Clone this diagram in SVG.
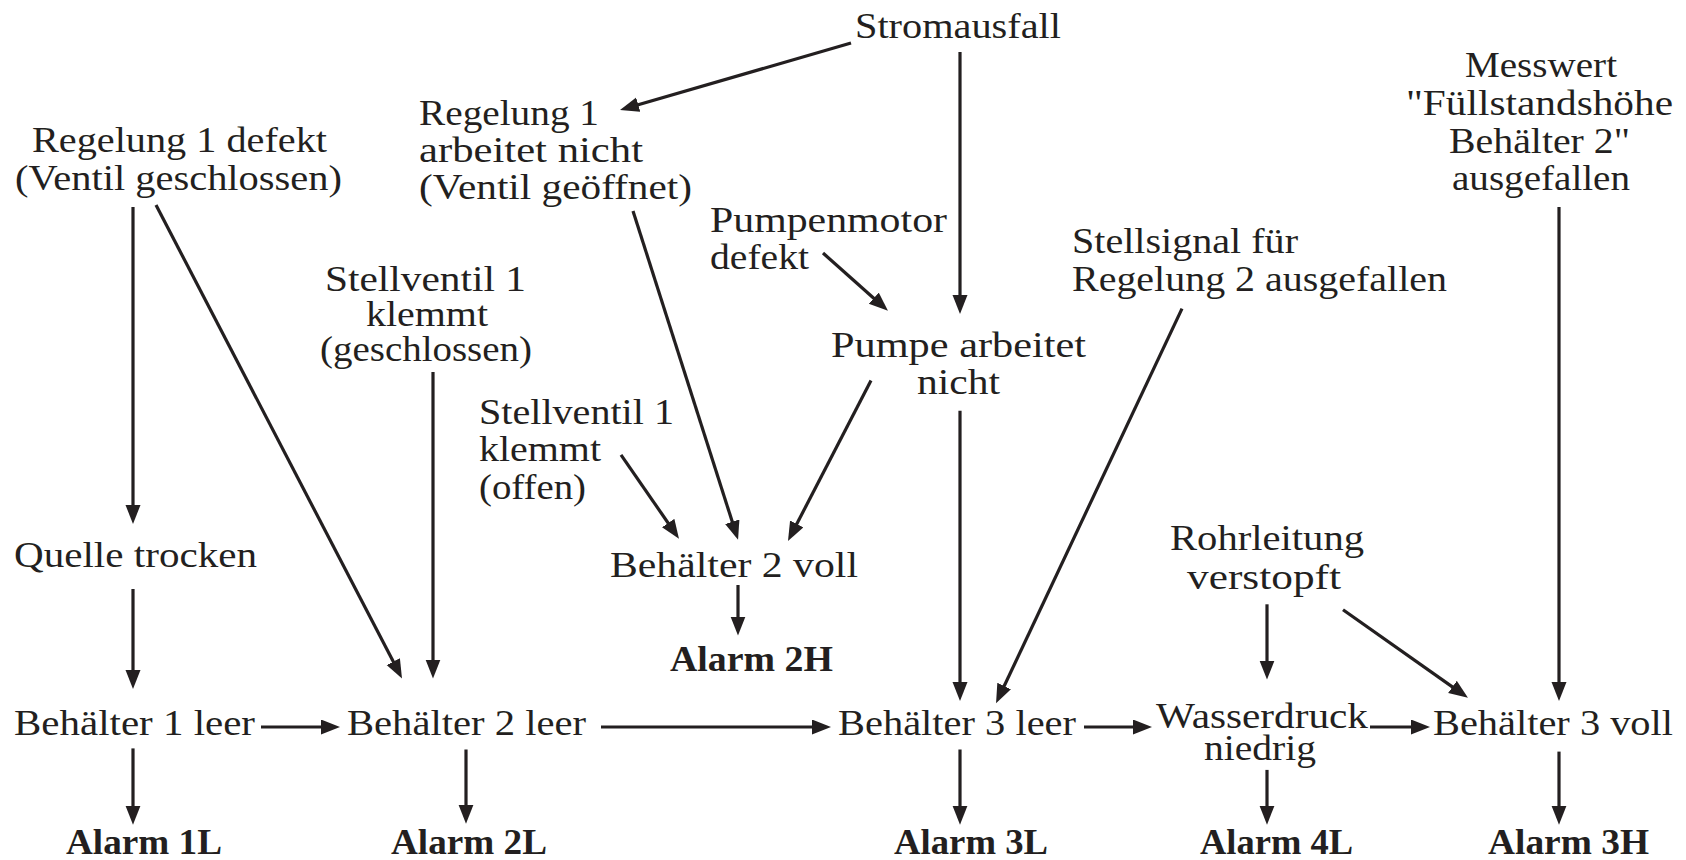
<svg xmlns="http://www.w3.org/2000/svg" width="1686" height="860" viewBox="0 0 1686 860">
  <style>
    .t { font-family: "Liberation Serif", "Times New Roman", serif; font-size: 36px; fill: #231f20; }
    .b { font-weight: bold; }
    .c line { stroke: #231f20; stroke-width: 3.2; fill: none; marker-end: url(#head); }
  </style>
  <defs>
    <marker id="head" markerUnits="userSpaceOnUse" markerWidth="20" markerHeight="16" refX="9" refY="7.5" orient="auto">
      <path d="M0,0 L19,7.5 L0,15 Z" fill="#231f20"/>
    </marker>
  </defs>
  <rect width="1686" height="860" fill="#ffffff"/>

  <!-- nodes -->
  <g id="stromausfall" class="t">
    <text x="855" y="38" textLength="206" lengthAdjust="spacingAndGlyphs">Stromausfall</text>
  </g>
  <g id="regelung1-defekt" class="t">
    <text x="32" y="152" textLength="295" lengthAdjust="spacingAndGlyphs">Regelung 1 defekt</text>
    <text x="15" y="190" textLength="327" lengthAdjust="spacingAndGlyphs">(Ventil geschlossen)</text>
  </g>
  <g id="regelung1-arbeitet-nicht" class="t">
    <text x="419" y="125" textLength="180" lengthAdjust="spacingAndGlyphs">Regelung 1</text>
    <text x="419" y="162" textLength="224" lengthAdjust="spacingAndGlyphs">arbeitet nicht</text>
    <text x="419" y="199" textLength="273" lengthAdjust="spacingAndGlyphs">(Ventil geöffnet)</text>
  </g>
  <g id="pumpenmotor" class="t">
    <text x="710" y="232" textLength="237" lengthAdjust="spacingAndGlyphs">Pumpenmotor</text>
    <text x="710" y="269" textLength="99" lengthAdjust="spacingAndGlyphs">defekt</text>
  </g>
  <g id="messwert" class="t">
    <text x="1465" y="77" textLength="152" lengthAdjust="spacingAndGlyphs">Messwert</text>
    <text x="1406" y="115" textLength="267" lengthAdjust="spacingAndGlyphs">"Füllstandshöhe</text>
    <text x="1449" y="153" textLength="181" lengthAdjust="spacingAndGlyphs">Behälter 2"</text>
    <text x="1452" y="190" textLength="178" lengthAdjust="spacingAndGlyphs">ausgefallen</text>
  </g>
  <g id="stellsignal" class="t">
    <text x="1072" y="253" textLength="226" lengthAdjust="spacingAndGlyphs">Stellsignal für</text>
    <text x="1072" y="291" textLength="375" lengthAdjust="spacingAndGlyphs">Regelung 2 ausgefallen</text>
  </g>
  <g id="stellventil-geschlossen" class="t">
    <text x="325" y="291" textLength="201" lengthAdjust="spacingAndGlyphs">Stellventil 1</text>
    <text x="366" y="326" textLength="122" lengthAdjust="spacingAndGlyphs">klemmt</text>
    <text x="320" y="361" textLength="212" lengthAdjust="spacingAndGlyphs">(geschlossen)</text>
  </g>
  <g id="pumpe" class="t">
    <text x="831" y="357" textLength="255" lengthAdjust="spacingAndGlyphs">Pumpe arbeitet</text>
    <text x="917" y="394" textLength="83" lengthAdjust="spacingAndGlyphs">nicht</text>
  </g>
  <g id="stellventil-offen" class="t">
    <text x="479" y="424" textLength="195" lengthAdjust="spacingAndGlyphs">Stellventil 1</text>
    <text x="479" y="461" textLength="122" lengthAdjust="spacingAndGlyphs">klemmt</text>
    <text x="479" y="499" textLength="107" lengthAdjust="spacingAndGlyphs">(offen)</text>
  </g>
  <g id="quelle" class="t">
    <text x="14" y="567" textLength="243" lengthAdjust="spacingAndGlyphs">Quelle trocken</text>
  </g>
  <g id="behaelter2-voll" class="t">
    <text x="610" y="577" textLength="248" lengthAdjust="spacingAndGlyphs">Behälter 2 voll</text>
  </g>
  <g id="alarm-2h" class="t b">
    <text x="670" y="671" textLength="163" lengthAdjust="spacingAndGlyphs">Alarm 2H</text>
  </g>
  <g id="rohrleitung" class="t">
    <text x="1170" y="550" textLength="194" lengthAdjust="spacingAndGlyphs">Rohrleitung</text>
    <text x="1187" y="589" textLength="154" lengthAdjust="spacingAndGlyphs">verstopft</text>
  </g>
  <g id="behaelter1-leer" class="t">
    <text x="14" y="735" textLength="241" lengthAdjust="spacingAndGlyphs">Behälter 1 leer</text>
  </g>
  <g id="behaelter2-leer" class="t">
    <text x="347" y="735" textLength="239" lengthAdjust="spacingAndGlyphs">Behälter 2 leer</text>
  </g>
  <g id="behaelter3-leer" class="t">
    <text x="838" y="735" textLength="238" lengthAdjust="spacingAndGlyphs">Behälter 3 leer</text>
  </g>
  <g id="wasserdruck" class="t">
    <text x="1156" y="728" textLength="212" lengthAdjust="spacingAndGlyphs">Wasserdruck</text>
    <text x="1204" y="760" textLength="112" lengthAdjust="spacingAndGlyphs">niedrig</text>
  </g>
  <g id="behaelter3-voll" class="t">
    <text x="1433" y="735" textLength="240" lengthAdjust="spacingAndGlyphs">Behälter 3 voll</text>
  </g>
  <g id="alarm-1l" class="t b">
    <text x="66" y="854" textLength="156" lengthAdjust="spacingAndGlyphs">Alarm 1L</text>
  </g>
  <g id="alarm-2l" class="t b">
    <text x="391" y="854" textLength="156" lengthAdjust="spacingAndGlyphs">Alarm 2L</text>
  </g>
  <g id="alarm-3l" class="t b">
    <text x="894" y="854" textLength="154" lengthAdjust="spacingAndGlyphs">Alarm 3L</text>
  </g>
  <g id="alarm-4l" class="t b">
    <text x="1200" y="854" textLength="153" lengthAdjust="spacingAndGlyphs">Alarm 4L</text>
  </g>
  <g id="alarm-3h" class="t b">
    <text x="1488" y="854" textLength="161" lengthAdjust="spacingAndGlyphs">Alarm 3H</text>
  </g>

  <!-- connectors: each line stops 10px short of the arrow tip -->
  <g id="connectors" class="c">
    <line x1="851" y1="43" x2="629.6" y2="107.2"/>
    <line x1="960" y1="52" x2="960" y2="304"/>
    <line x1="133" y1="207" x2="133" y2="514"/>
    <line x1="156" y1="205" x2="397.4" y2="669.6"/>
    <line x1="133" y1="589" x2="133" y2="679"/>
    <line x1="433" y1="372" x2="433" y2="668.5"/>
    <line x1="633" y1="211" x2="735" y2="530.3"/>
    <line x1="823" y1="253" x2="880.5" y2="304.2"/>
    <line x1="871" y1="380.6" x2="792.6" y2="532"/>
    <line x1="621" y1="454.8" x2="673.3" y2="530.5"/>
    <line x1="738" y1="585" x2="738" y2="625.5"/>
    <line x1="960" y1="410.8" x2="960" y2="691"/>
    <line x1="1182" y1="308.6" x2="1000.3" y2="694.2"/>
    <line x1="1559" y1="207" x2="1559" y2="691"/>
    <line x1="1267" y1="604.3" x2="1267" y2="669.6"/>
    <line x1="1343" y1="609.7" x2="1459.8" y2="692.1"/>
    <line x1="261" y1="727" x2="330" y2="727"/>
    <line x1="601" y1="727" x2="821" y2="727"/>
    <line x1="1084" y1="727" x2="1142" y2="727"/>
    <line x1="1370" y1="727" x2="1420" y2="727"/>
    <line x1="133" y1="748.4" x2="133" y2="814.7"/>
    <line x1="466" y1="749.5" x2="466" y2="813.7"/>
    <line x1="960" y1="749.5" x2="960" y2="814.7"/>
    <line x1="1267" y1="769.9" x2="1267" y2="814.7"/>
    <line x1="1559" y1="751.6" x2="1559" y2="814.7"/>
  </g>
</svg>
